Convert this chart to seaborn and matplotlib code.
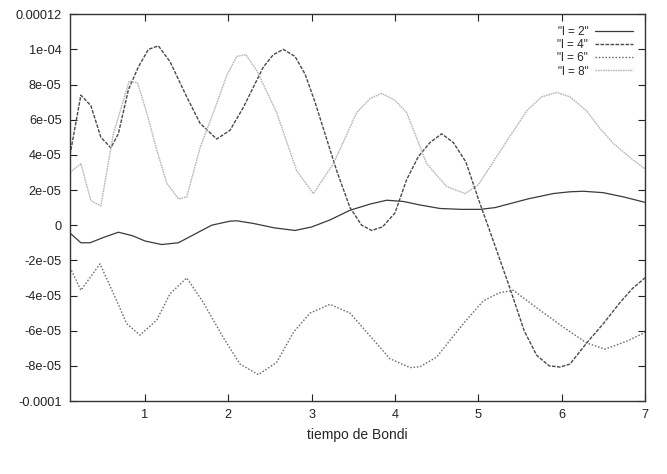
import numpy as np
import pandas as pd
import matplotlib
matplotlib.use("Agg")
import matplotlib.pyplot as plt
import seaborn as sns

sns.set_style("ticks")
plt.rcParams['font.family'] = ['Liberation Sans', 'DejaVu Sans']

# datos (amplitud en unidades de 1e-05)
x_l2 = [0.1, 0.23, 0.34, 0.5, 0.68, 0.85, 1.0, 1.2, 1.4, 1.6, 1.8, 2.02, 2.1, 2.3, 2.55,
        2.8, 3.0, 3.22, 3.46, 3.7, 3.9, 4.1, 4.3, 4.54, 4.8, 5.02, 5.2, 5.4, 5.6, 5.9,
        6.1, 6.26, 6.5, 6.75, 7.0]
y_l2 = [-0.45, -1.0, -1.0, -0.7, -0.4, -0.6, -0.9, -1.1, -1.0, -0.5, 0.0, 0.23, 0.25, 0.1, -0.15,
        -0.3, -0.1, 0.3, 0.85, 1.2, 1.42, 1.35, 1.15, 0.95, 0.9, 0.9, 1.0, 1.25, 1.5, 1.8,
        1.9, 1.93, 1.85, 1.6, 1.3]

x_l4 = [0.1, 0.23, 0.35, 0.47, 0.59, 0.68, 0.8, 0.92, 1.04, 1.16, 1.3, 1.5, 1.66, 1.86,
        2.02, 2.18, 2.42, 2.54, 2.66, 2.8, 2.92, 3.04, 3.14, 3.3, 3.46, 3.6, 3.72, 3.85, 4.0,
        4.14, 4.28, 4.42, 4.56, 4.7, 4.85, 5.0, 5.18, 5.38, 5.55, 5.7, 5.85, 5.98, 6.1,
        6.3, 6.5, 6.7, 6.85, 7.0]
y_l4 = [4.0, 7.4, 6.8, 5.0, 4.4, 5.2, 7.7, 9.0, 10.0, 10.2, 9.3, 7.3, 5.8, 4.9,
        5.4, 6.7, 9.0, 9.7, 10.0, 9.6, 8.6, 7.0, 5.5, 3.1, 1.0, 0.0, -0.3, -0.1, 0.7,
        2.6, 3.9, 4.7, 5.2, 4.7, 3.6, 1.5, -0.9, -3.6, -6.0, -7.4, -8.0, -8.07, -7.9,
        -6.7, -5.6, -4.4, -3.6, -3.0]

x_l6 = [0.1, 0.23, 0.46, 0.66, 0.78, 0.94, 1.14, 1.3, 1.5, 1.7, 1.94, 2.14, 2.36, 2.58,
        2.78, 2.98, 3.22, 3.46, 3.7, 3.94, 4.18, 4.3, 4.5, 4.82, 5.06, 5.25, 5.42, 5.7,
        6.02, 6.3, 6.52, 6.78, 7.0]
y_l6 = [-2.4, -3.7, -2.2, -4.3, -5.6, -6.25, -5.4, -3.9, -3.0, -4.4, -6.4, -7.9, -8.5, -7.8,
        -6.1, -5.0, -4.5, -5.0, -6.3, -7.6, -8.1, -8.05, -7.5, -5.6, -4.3, -3.85, -3.7, -4.7,
        -5.8, -6.7, -7.05, -6.6, -6.1]

x_l8 = [0.1, 0.23, 0.35, 0.47, 0.62, 0.74, 0.81, 0.91, 1.02, 1.14, 1.26, 1.4, 1.5, 1.66,
        1.82, 1.98, 2.1, 2.21, 2.34, 2.58, 2.82, 3.02, 3.26, 3.54, 3.7, 3.84, 4.0, 4.14,
        4.38, 4.62, 4.84, 5.0, 5.22, 5.4, 5.58, 5.76, 5.94, 6.1, 6.3, 6.46, 6.62, 6.86, 7.0]
y_l8 = [3.0, 3.5, 1.4, 1.1, 5.2, 7.1, 8.2, 8.1, 6.4, 4.3, 2.4, 1.5, 1.6, 4.4,
        6.4, 8.5, 9.6, 9.7, 8.8, 6.4, 3.1, 1.8, 3.5, 6.4, 7.2, 7.5, 7.1, 6.4,
        3.5, 2.2, 1.8, 2.3, 3.9, 5.2, 6.5, 7.3, 7.55, 7.3, 6.5, 5.5, 4.65, 3.7, 3.2]

series = [('"l = 2"', x_l2, y_l2), ('"l = 4"', x_l4, y_l4),
          ('"l = 6"', x_l6, y_l6), ('"l = 8"', x_l8, y_l8)]

ytick_vals = [-0.0001, -8e-05, -6e-05, -4e-05, -2e-05, 0, 2e-05, 4e-05, 6e-05, 8e-05, 1e-04, 0.00012]
ytick_labels = ['-0.0001', '-8e-05', '-6e-05', '-4e-05', '-2e-05', '0', '2e-05',
                '4e-05', '6e-05', '8e-05', '1e-04', '0.00012']
xtick_vals = [1, 2, 3, 4, 5, 6, 7]

estilos = {
    '"l = 2"': dict(color='#3a3a3a', linestyle='-', linewidth=0.9),
    '"l = 4"': dict(color='#4a4a4a', linestyle=(0, (2.6, 1.0)), linewidth=1.0),
    '"l = 6"': dict(color='#6a6a6a', linestyle=(0, (1.1, 1.3)), linewidth=1.0),
    '"l = 8"': dict(color='#b4b4b4', linestyle=(0, (1.2, 0.6)), linewidth=1.0),
}

fig = plt.figure(figsize=(6.67, 4.74), dpi=100)
ax = fig.add_axes([0.105, 0.154, 0.862, 0.816])

for nombre, xs, ys in series:
    df = pd.DataFrame({'t': xs, 'v': np.array(ys) * 1e-5})
    sns.lineplot(data=df, x='t', y='v', ax=ax, sort=False, label=nombre,
                 **estilos[nombre])

ax.set_xlim(0.1, 7)
ax.set_ylim(-0.0001, 0.00012)
ax.set_xticks(xtick_vals)
ax.set_xticklabels([str(v) for v in xtick_vals])
ax.set_yticks(ytick_vals)
ax.set_yticklabels(ytick_labels)
ax.tick_params(direction='in', top=True, right=True, length=5, width=0.8,
               labelsize=9.2, pad=6, colors='#222222')
for s in ax.spines.values():
    s.set_linewidth(1.0)
    s.set_color('#333333')
ax.set_xlabel('tiempo de Bondi', fontsize=10, labelpad=5)
ax.set_ylabel('')

ax.legend(loc='upper right', frameon=False, markerfirst=False, fontsize=8.5,
          handlelength=3.2, labelspacing=0.1, borderaxespad=0.6, handletextpad=0.6)

fig.savefig('out.png', dpi=100)
